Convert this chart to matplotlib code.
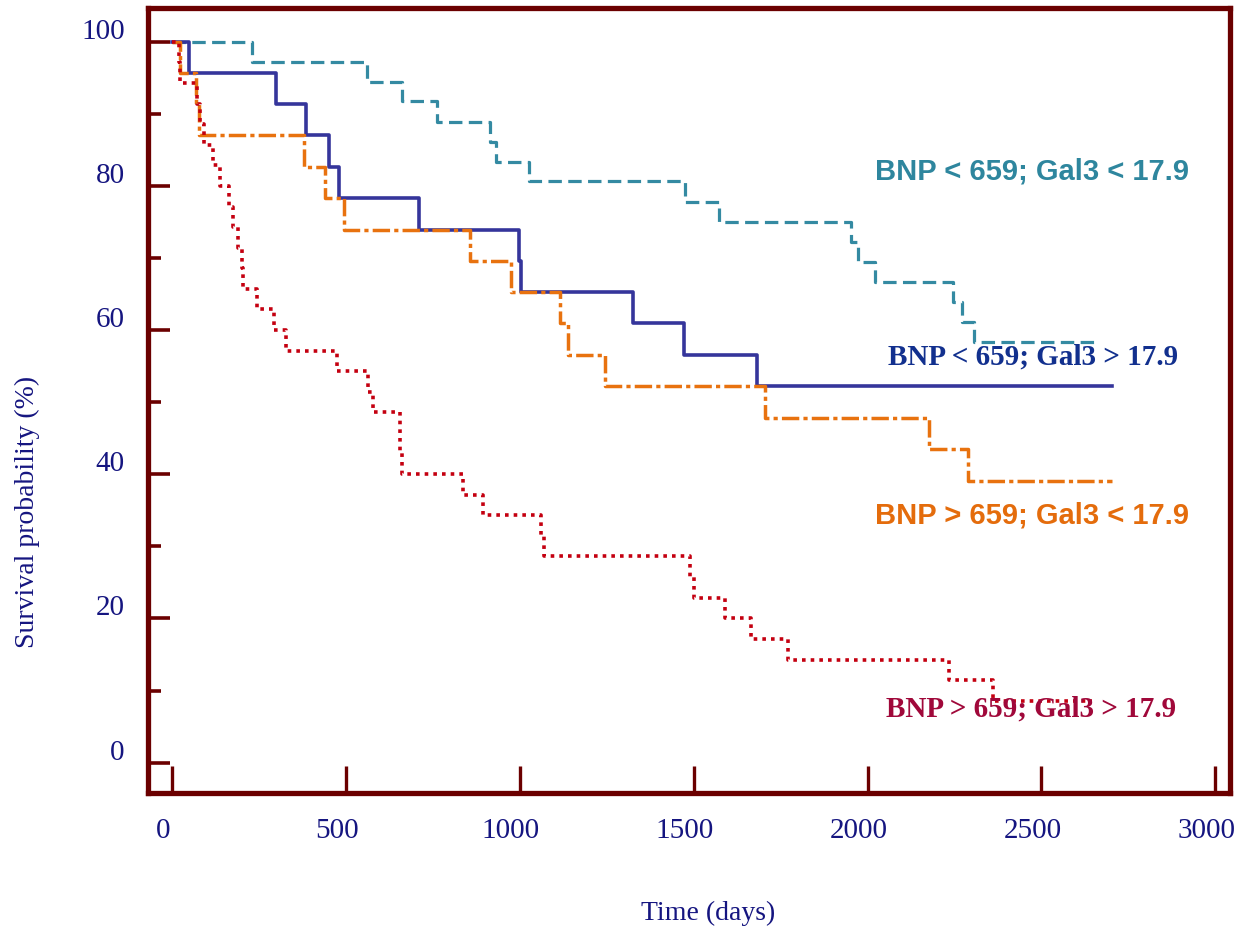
import matplotlib
matplotlib.use('Agg')
import matplotlib.pyplot as plt
from matplotlib.transforms import ScaledTranslation

plt.rcParams['font.family'] = 'Liberation Serif'

# Kaplan-Meier curves: days and survival (%) at each step
low_bnp_low_gal3_days = [0, 230, 560, 660, 761, 914, 931, 1026, 1474, 1574,
                         1953, 1974, 2021, 2245, 2272, 2307, 2666]
low_bnp_low_gal3_surv = [100, 97.2, 94.4, 91.7, 88.9, 86.1, 83.3, 80.6, 77.8, 75.0,
                         72.2, 69.4, 66.7, 63.9, 61.1, 58.3, 58.3]

low_bnp_high_gal3_days = [0, 48, 298, 384, 451, 480, 709, 998, 1003, 1326, 1471, 1682, 2704]
low_bnp_high_gal3_surv = [100, 95.7, 91.3, 87.0, 82.6, 78.3, 73.9, 69.6, 65.2, 60.9, 56.5, 52.2, 52.2]

high_bnp_low_gal3_days = [0, 22, 68, 77, 379, 440, 495, 857, 975, 1114, 1137, 1244,
                          1706, 2177, 2290, 2704]
high_bnp_low_gal3_surv = [100, 95.7, 91.3, 87.0, 82.6, 78.3, 73.9, 69.6, 65.2, 60.9, 56.5, 52.2,
                          47.8, 43.5, 39.1, 39.1]

high_bnp_high_gal3_days = [0, 18, 22, 70, 80, 92, 118, 137, 163, 176,
                           190, 200, 203, 243, 293, 326, 473, 562, 576, 655,
                           656, 661, 837, 895, 1060, 1070, 1490, 1501, 1590, 1666,
                           1771, 2233, 2360, 2647]
high_bnp_high_gal3_surv = [100, 97.1, 94.3, 91.4, 88.6, 85.7, 82.9, 80.0, 77.1, 74.3,
                           71.4, 68.6, 65.7, 62.9, 60.0, 57.1, 54.3, 51.4, 48.6, 45.7,
                           42.9, 40.0, 37.1, 34.3, 31.4, 28.6, 25.7, 22.9, 20.0, 17.1,
                           14.3, 11.4, 8.6, 8.6]

group_labels = ['BNP < 659; Gal3 < 17.9', 'BNP < 659; Gal3 > 17.9',
                'BNP > 659; Gal3 < 17.9', 'BNP > 659; Gal3 > 17.9']

x_ticks = [0, 500, 1000, 1500, 2000, 2500, 3000]
y_ticks = [0, 20, 40, 60, 80, 100]
y_minor = [10, 30, 50, 70, 90]

frame = '#6b0000'
navy = '#151580'

fig = plt.figure(figsize=(12.36, 9.31), dpi=100)
ax = fig.add_axes([0.12, 0.148, 0.8752, 0.843])

ax.step(low_bnp_low_gal3_days, low_bnp_low_gal3_surv, where='post',
        color='#348aa2', lw=2.3, linestyle=(0, (4.2, 2.0)))
ax.step(low_bnp_high_gal3_days, low_bnp_high_gal3_surv, where='post',
        color='#35359b', lw=2.6)
ax.step(high_bnp_low_gal3_days, high_bnp_low_gal3_surv, where='post',
        color='#e8720f', lw=2.5, linestyle=(0, (5, 1.2, 1.2, 1.2)))
ax.step(high_bnp_high_gal3_days, high_bnp_high_gal3_surv, where='post',
        color='#c40010', lw=2.6, linestyle=(0, (1, 1.4)))

# curve labels
ax.text(2924, 80.8, group_labels[0], ha='right', va='baseline', fontsize=21,
        fontweight='bold', family='Liberation Sans', color='#2e869e', zorder=5)
ax.text(2893, 55.2, group_labels[1], ha='right', va='baseline', fontsize=21,
        fontweight='bold', family='Liberation Serif', color='#12308e', zorder=5)
ax.text(2924, 33.2, group_labels[2], ha='right', va='baseline', fontsize=21,
        fontweight='bold', family='Liberation Sans', color='#e46c0c', zorder=5)
ax.text(2889, 6.4, group_labels[3], ha='right', va='baseline', fontsize=21,
        fontweight='bold', family='Liberation Serif', color='#a0083a', zorder=5)

ax.set_xlim(-69, 3043)
ax.set_ylim(-4.24, 104.6)

for side in ['left', 'right', 'top', 'bottom']:
    ax.spines[side].set_color(frame)
    ax.spines[side].set_linewidth(3.8)

ax.set_xticks(x_ticks)
ax.set_yticks(y_ticks)
ax.set_yticks(y_minor, minor=True)
ax.tick_params(axis='x', direction='in', length=19.5, width=2.4, color=frame,
               labelsize=21, labelcolor=navy, pad=17.5)
ax.tick_params(axis='y', which='major', direction='in', length=16, width=2.6,
               color=frame, labelsize=21, labelcolor=navy, pad=17)
ax.tick_params(axis='y', which='minor', direction='in', length=9.4, width=2.6,
               color=frame)

# y labels sit just above their ticks, x labels slightly left of theirs
lift = ScaledTranslation(0, 3 / 100, fig.dpi_scale_trans)
for lab in ax.get_yticklabels():
    lab.set_va('baseline')
    lab.set_transform(lab.get_transform() + lift)

shift = ScaledTranslation(-9 / 100, 0, fig.dpi_scale_trans)
for lab in ax.get_xticklabels():
    lab.set_transform(lab.get_transform() + shift)

fig.text(27.5 / 1236, 1 - 512 / 931, 'Survival probability (%)', rotation=90,
         ha='center', va='center', fontsize=20, color=navy)
fig.text(708.5 / 1236, 1 - 913 / 931, 'Time (days)', ha='center', va='center',
         fontsize=20, color=navy)

fig.savefig('out.png', dpi=100)
